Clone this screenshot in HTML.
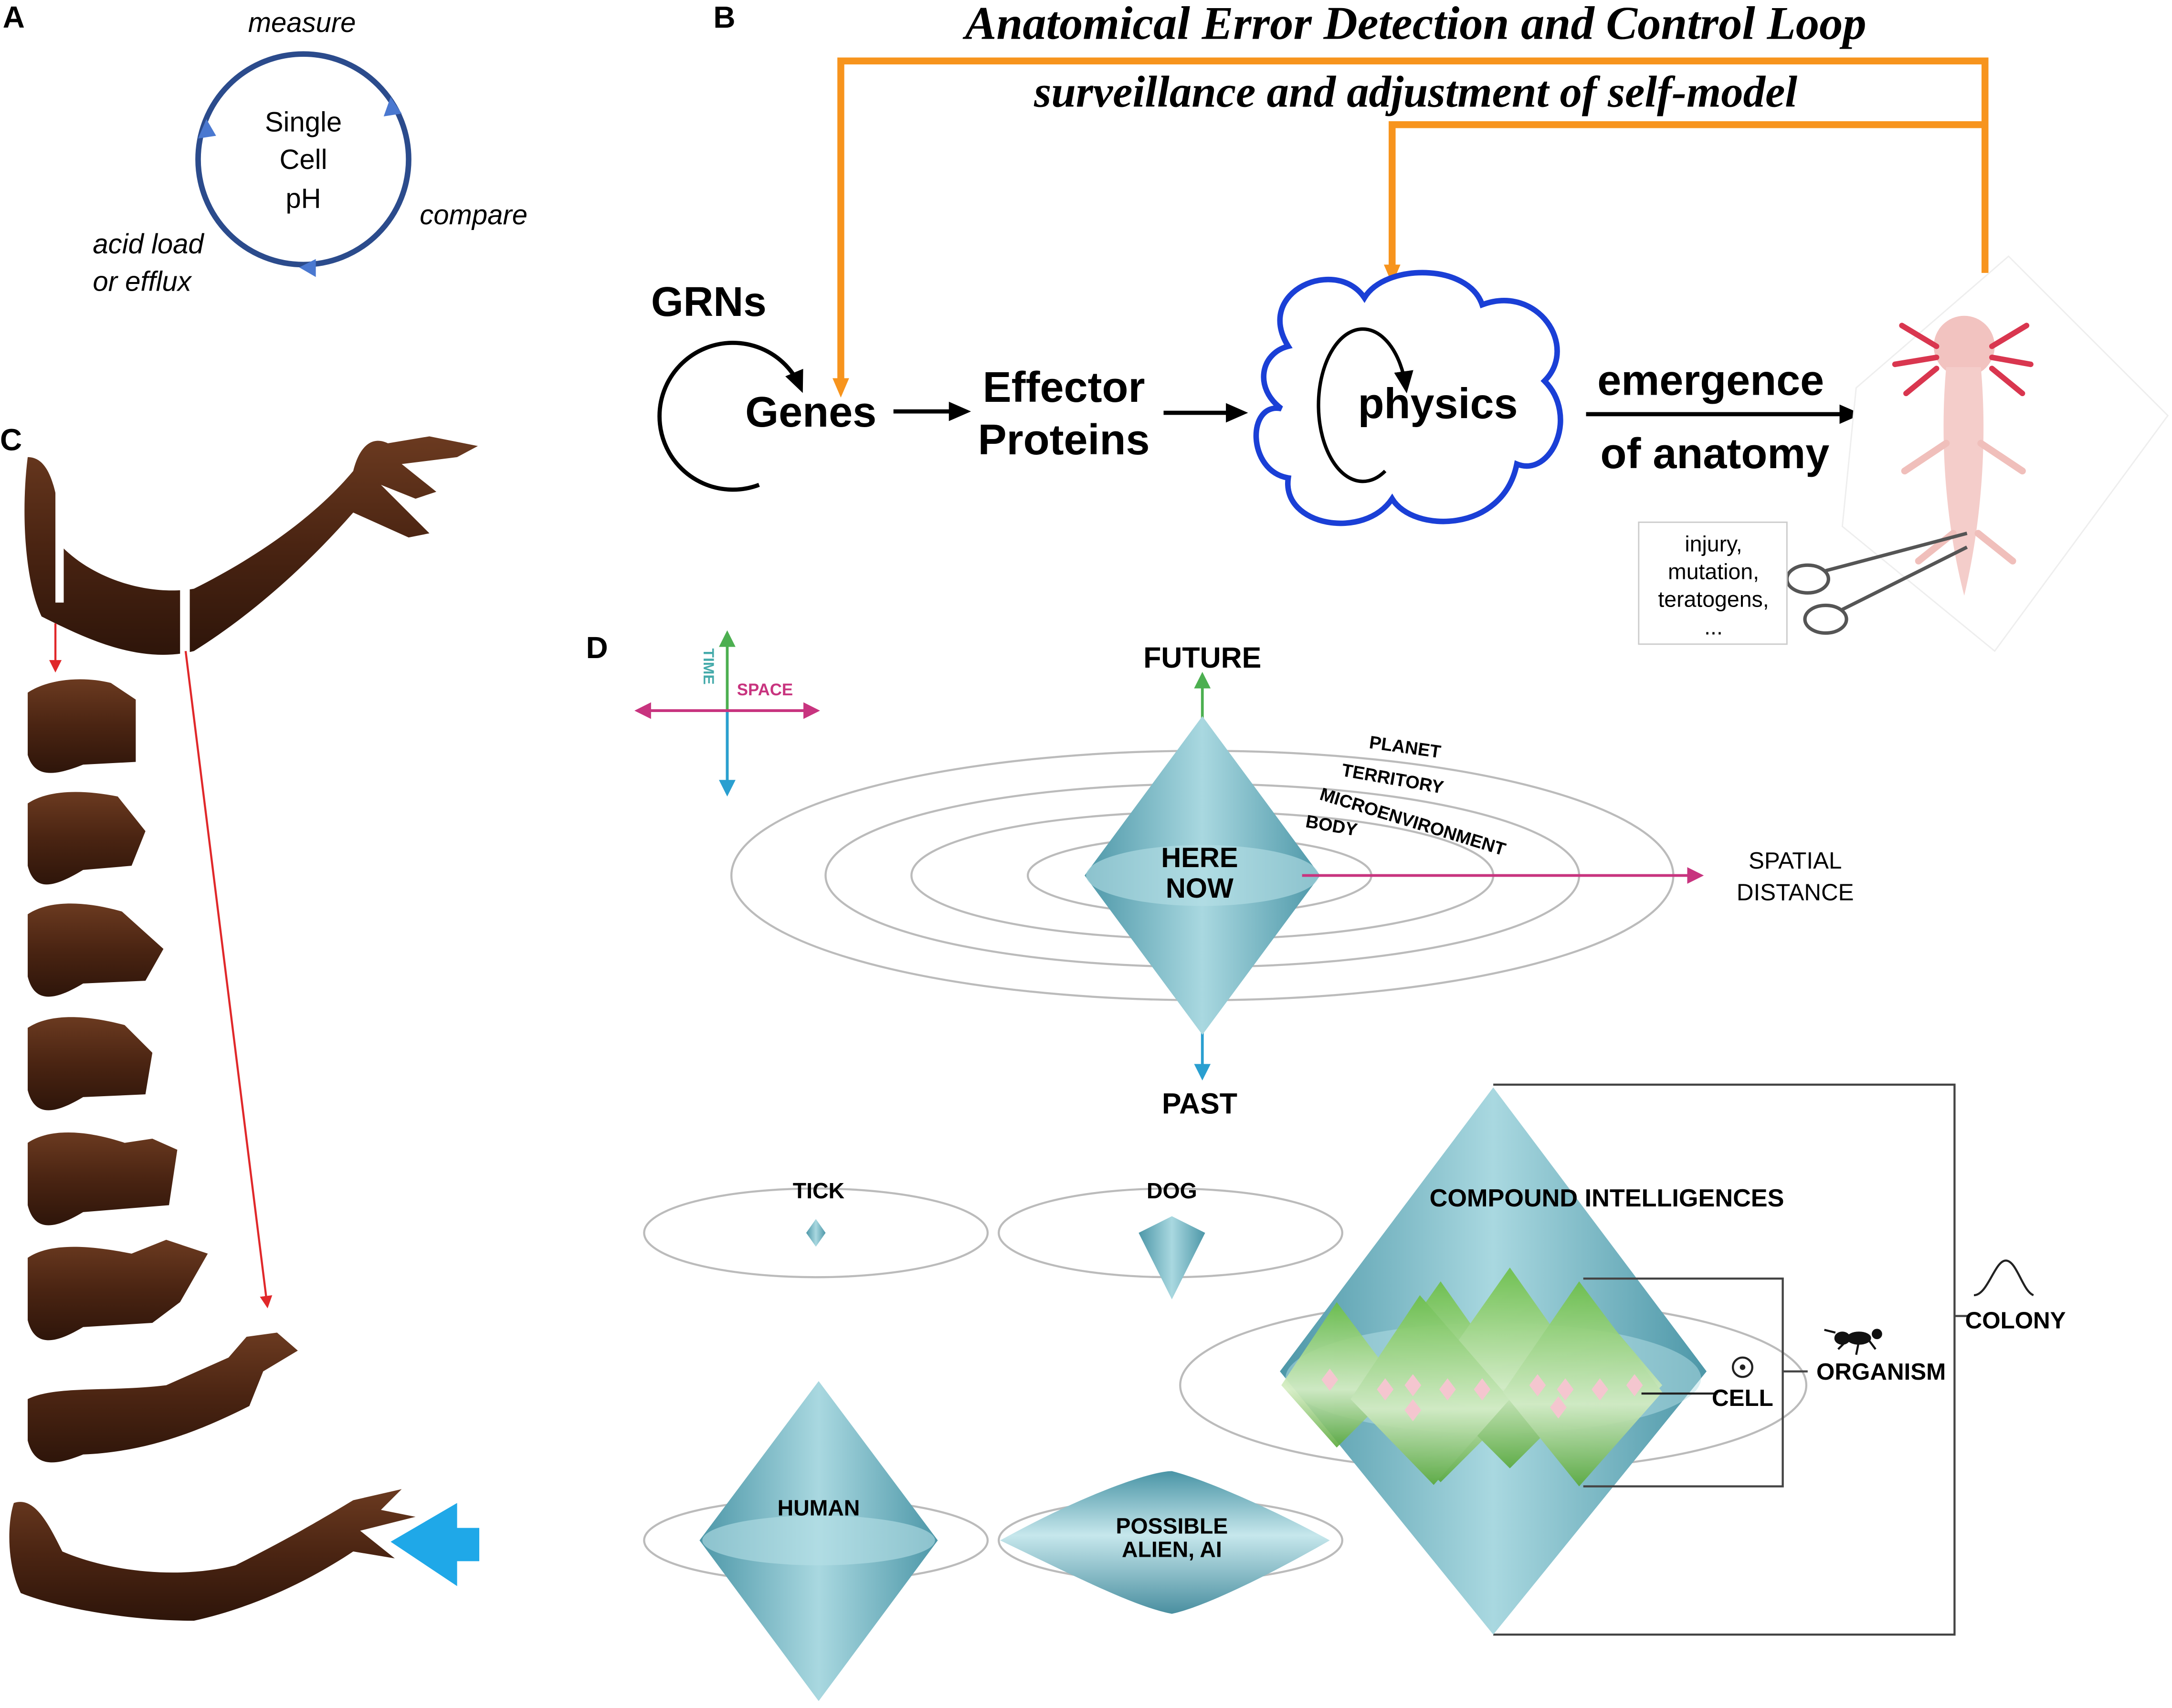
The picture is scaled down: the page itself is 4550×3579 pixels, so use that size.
<!DOCTYPE html>
<html><head><meta charset="utf-8"><style>
html,body{margin:0;padding:0;background:#fff;}
svg{display:block;font-family:"Liberation Sans",sans-serif;}
.cond{font-weight:bold;}
.serif{font-family:"Liberation Serif",serif;font-weight:bold;font-style:italic;}
</style></head><body>
<svg width="4550" height="3579" viewBox="0 0 1568 1233" preserveAspectRatio="none" xmlns="http://www.w3.org/2000/svg">
<defs>
<linearGradient id="teal" x1="0" y1="0" x2="1" y2="0">
<stop offset="0" stop-color="#4d97a8"/><stop offset="0.5" stop-color="#a9d8e0"/><stop offset="1" stop-color="#4d97a8"/></linearGradient>
<linearGradient id="tealv" x1="0" y1="0" x2="0" y2="1">
<stop offset="0" stop-color="#4a95a6"/><stop offset="0.45" stop-color="#c6e7ec"/><stop offset="1" stop-color="#4a8fa0"/></linearGradient>
<linearGradient id="green" x1="0" y1="0" x2="0" y2="1">
<stop offset="0" stop-color="#6cbf45"/><stop offset="0.6" stop-color="#d5edc2"/><stop offset="1" stop-color="#5aa93a"/></linearGradient>
<linearGradient id="brown" x1="0" y1="0" x2="0" y2="1">
<stop offset="0" stop-color="#6b3a20"/><stop offset="0.5" stop-color="#4a2412"/><stop offset="1" stop-color="#2e150a"/></linearGradient>
<marker id="ab" markerUnits="userSpaceOnUse" markerWidth="16" markerHeight="16" refX="12" refY="8" orient="auto"><path d="M0,1 L16,8 L0,15 Z" fill="#000"/></marker>
<marker id="ao" markerUnits="userSpaceOnUse" markerWidth="14" markerHeight="14" refX="7" refY="7" orient="auto"><path d="M0,1 L14,7 L0,13 Z" fill="#f7941d"/></marker>
<marker id="ar" markerWidth="6" markerHeight="6" refX="5" refY="3" orient="auto"><path d="M0,0 L6,3 L0,6 Z" fill="#e0282a"/></marker>
<marker id="ap" markerWidth="6" markerHeight="6" refX="5" refY="3" orient="auto"><path d="M0,0 L6,3 L0,6 Z" fill="#c8347f"/></marker>
<marker id="ag" markerWidth="6" markerHeight="6" refX="5" refY="3" orient="auto"><path d="M0,0 L6,3 L0,6 Z" fill="#4caf50"/></marker>
<marker id="abl" markerWidth="6" markerHeight="6" refX="5" refY="3" orient="auto"><path d="M0,0 L6,3 L0,6 Z" fill="#2a9fd0"/></marker>
</defs>

<g>
<text x="2" y="20" font-size="22" font-weight="bold">A</text>
<circle cx="219" cy="115" r="76" fill="none" stroke="#2b4b8c" stroke-width="4"/>
<path d="M282,70 l8,12 l-13,2 z" fill="#4a78d0"/>
<path d="M228,187 l-12,6 l12,7 z" fill="#4a78d0"/>
<path d="M143,100 l6,-14 l7,12 z" fill="#4a78d0"/>
<text x="219" y="95" font-size="20" text-anchor="middle">Single</text>
<text x="219" y="122" font-size="20" text-anchor="middle">Cell</text>
<text x="219" y="150" font-size="20" text-anchor="middle">pH</text>
<text x="218" y="23" font-size="20" font-style="italic" text-anchor="middle">measure</text>
<text x="303" y="162" font-size="20" font-style="italic">compare</text>
<text x="67" y="183" font-size="20" font-style="italic">acid load</text>
<text x="67" y="210" font-size="20" font-style="italic">or efflux</text>
</g>

<g>
<text x="515" y="20" font-size="22" font-weight="bold">B</text>
<text class="serif" x="1022" y="28" font-size="34" text-anchor="middle" style="font-family:'Liberation Serif',serif">Anatomical Error Detection and Control Loop</text>
<text class="serif" x="1022" y="77" font-size="32" text-anchor="middle" style="font-family:'Liberation Serif',serif">surveillance and adjustment of self-model</text>
<path d="M1433,197 V44 H607 V280" fill="none" stroke="#f7941d" stroke-width="5" marker-end="url(#ao)"/>
<path d="M1433,90 H1005 V198" fill="none" stroke="#f7941d" stroke-width="5" marker-end="url(#ao)"/>
<text x="470" y="228" font-size="30" font-weight="bold">GRNs</text>
<path d="M548,350 A53,53 0 1 1 578,280" fill="none" stroke="#000" stroke-width="3" marker-end="url(#ab)"/>
<text x="538" y="308" font-size="31" font-weight="bold">Genes</text>
<line x1="645" y1="297" x2="697" y2="297" stroke="#000" stroke-width="3" marker-end="url(#ab)"/>
<text x="768" y="290" font-size="31" font-weight="bold" text-anchor="middle">Effector</text>
<text x="768" y="328" font-size="31" font-weight="bold" text-anchor="middle">Proteins</text>
<line x1="840" y1="298" x2="897" y2="298" stroke="#000" stroke-width="3" marker-end="url(#ab)"/>
<path d="M930,250 C905,210 965,185 985,215 C1000,190 1060,190 1070,220 C1110,205 1140,250 1115,275 C1140,300 1120,345 1095,335 C1085,385 1020,385 1005,360 C985,390 925,380 930,345 C900,340 900,290 925,295 C905,280 910,255 930,250 Z" fill="#fff" stroke="#1a3fd6" stroke-width="4"/>
<path d="M1000,340 A32,55 0 1 1 1015,280" fill="none" stroke="#000" stroke-width="2.5" marker-end="url(#ab)"/>
<text x="1038" y="302" font-size="31" font-weight="bold" text-anchor="middle">physics</text>
<text x="1235" y="285" font-size="31" font-weight="bold" text-anchor="middle">emergence</text>
<line x1="1145" y1="299" x2="1340" y2="299" stroke="#000" stroke-width="3" marker-end="url(#ab)"/>
<text x="1238" y="338" font-size="31" font-weight="bold" text-anchor="middle">of anatomy</text>
<g>
<path d="M1340,280 L1450,185 L1565,300 L1440,470 L1330,380 Z" fill="#fff" stroke="#eee"/>
<ellipse cx="1418" cy="250" rx="22" ry="22" fill="#f2c3c0"/>
<path d="M1405,265 C1400,320 1405,380 1418,430 C1430,380 1435,320 1430,265 Z" fill="#f4cdca"/>
<path d="M1398,250 l-25,-15 M1398,258 l-30,5 M1398,266 l-22,18 M1438,250 l25,-15 M1438,258 l28,5 M1438,266 l22,18" stroke="#d9364f" stroke-width="4" stroke-linecap="round"/>
<path d="M1405,320 l-30,20 M1430,320 l30,20 M1410,385 l-25,20 M1428,385 l25,20" stroke="#f0bfbb" stroke-width="5" stroke-linecap="round"/>
</g>
<g fill="none" stroke="#555" stroke-width="2.5">
<ellipse cx="1305" cy="418" rx="15" ry="10"/><ellipse cx="1318" cy="447" rx="15" ry="10"/>
<path d="M1318,412 L1420,385 M1330,440 L1420,395"/>
</g>
<rect x="1183" y="377" width="107" height="88" fill="#fff" stroke="#ccc"/>
<text x="1237" y="398" font-size="16" text-anchor="middle">injury,</text>
<text x="1237" y="418" font-size="16" text-anchor="middle">mutation,</text>
<text x="1237" y="438" font-size="16" text-anchor="middle">teratogens,</text>
<text x="1237" y="458" font-size="16" text-anchor="middle">...</text>
</g>

<g>
<text x="0" y="325" font-size="22" font-weight="bold">C</text>
<path d="M20,330 C35,330 42,350 45,395 C70,420 110,430 140,425 C190,400 230,370 255,340 C260,320 270,315 280,320 L310,315 L345,322 L330,330 L290,335 L315,355 L300,360 L275,350 L310,385 L295,388 L255,370 C220,410 180,445 140,470 C100,480 60,460 30,445 C18,420 15,370 20,330 Z" fill="url(#brown)"/>
<rect x="40" y="340" width="6" height="95" fill="#fff"/>
<rect x="130" y="425" width="7" height="50" fill="#fff"/>
<line x1="40" y1="450" x2="40" y2="484" stroke="#e0282a" stroke-width="1.5" marker-end="url(#ar)"/>
<line x1="134" y1="470" x2="193" y2="943" stroke="#e0282a" stroke-width="1.5" marker-end="url(#ar)"/>
<path d="M20,500 C35,490 60,488 80,493 L98,505 L98,550 L60,552 C40,560 25,562 20,545 Z" fill="url(#brown)"/>
<path d="M20,580 C35,570 60,570 85,575 L105,600 L95,625 L60,628 C40,640 25,645 20,625 Z" fill="url(#brown)"/>
<path d="M20,660 C35,650 60,650 88,658 L118,685 L105,708 L60,710 C40,722 25,725 20,705 Z" fill="url(#brown)"/>
<path d="M20,742 C35,732 60,732 90,740 L110,760 L105,790 L60,792 C40,804 25,807 20,787 Z" fill="url(#brown)"/>
<path d="M20,825 C35,815 60,815 90,825 L110,822 L128,830 L122,870 L60,875 C40,887 25,890 20,870 Z" fill="url(#brown)"/>
<path d="M20,908 C35,898 60,898 95,905 L120,895 L150,905 L130,940 L110,955 L60,958 C40,970 25,973 20,953 Z" fill="url(#brown)"/>
<path d="M20,1010 C40,1000 80,1005 120,1000 L165,980 L178,965 L200,962 L215,975 L190,990 L180,1015 C150,1030 110,1048 60,1050 C40,1058 25,1060 20,1040 Z" fill="url(#brown)"/>
<path d="M10,1085 C25,1080 35,1100 45,1120 C80,1135 130,1140 170,1130 C210,1110 235,1095 255,1083 L290,1075 L275,1090 L300,1095 L260,1105 L285,1125 L255,1120 C225,1140 185,1160 140,1170 C90,1170 40,1160 15,1150 C5,1130 5,1100 10,1085 Z" fill="url(#brown)"/>
<path d="M282,1113 L330,1085 L330,1103 L346,1103 L346,1127 L330,1127 L330,1145 Z" fill="#1fa8e8"/>
</g>

<g>
<text x="423" y="475" font-size="22" font-weight="bold">D</text>
<line x1="525" y1="572" x2="525" y2="457" stroke="#4caf50" stroke-width="2" marker-end="url(#ag)"/>
<line x1="525" y1="513" x2="525" y2="573" stroke="#2a9fd0" stroke-width="2" marker-end="url(#abl)"/>
<line x1="525" y1="513" x2="590" y2="513" stroke="#c8347f" stroke-width="2" marker-end="url(#ap)"/>
<line x1="525" y1="513" x2="460" y2="513" stroke="#c8347f" stroke-width="2" marker-end="url(#ap)"/>
<text x="0" y="0" font-size="11" fill="#4aa" transform="translate(508,468) rotate(90)" class="cond">TIME</text>
<text x="532" y="502" font-size="12" fill="#c8347f" class="cond">SPACE</text>

<g fill="none" stroke="#bbb" stroke-width="1.5">
<ellipse cx="868" cy="632" rx="340" ry="90"/>
<ellipse cx="868" cy="632" rx="272" ry="66"/>
<ellipse cx="868" cy="632" rx="210" ry="46"/>
<ellipse cx="866" cy="632" rx="124" ry="28"/>
</g>
<line x1="868" y1="530" x2="868" y2="487" stroke="#4caf50" stroke-width="2" marker-end="url(#ag)"/>
<line x1="868" y1="740" x2="868" y2="778" stroke="#2a9fd0" stroke-width="2" marker-end="url(#abl)"/>
<path d="M868,517 L953,632 L868,747 L783,632 Z" fill="url(#teal)"/>
<ellipse cx="868" cy="632" rx="84" ry="22" fill="#b6dfe6" opacity="0.6"/>
<line x1="940" y1="632" x2="1228" y2="632" stroke="#c8347f" stroke-width="2" marker-end="url(#ap)"/>
<text x="868" y="482" font-size="21" text-anchor="middle" class="cond">FUTURE</text>
<text x="866" y="804" font-size="21" text-anchor="middle" class="cond">PAST</text>
<text x="866" y="626" font-size="20" text-anchor="middle" class="cond">HERE</text>
<text x="866" y="648" font-size="20" text-anchor="middle" class="cond">NOW</text>
<text x="1296" y="627" font-size="17" text-anchor="middle">SPATIAL</text>
<text x="1296" y="650" font-size="17" text-anchor="middle">DISTANCE</text>
<text x="988" y="540" font-size="13" transform="rotate(8 988 540)" class="cond">PLANET</text>
<text x="968" y="560" font-size="13" transform="rotate(10 968 560)" class="cond">TERRITORY</text>
<text x="952" y="577" font-size="13" transform="rotate(17 952 577)" class="cond">MICROENVIRONMENT</text>
<text x="942" y="597" font-size="13" transform="rotate(10 942 597)" class="cond">BODY</text>

<ellipse cx="589" cy="890" rx="124" ry="32" fill="none" stroke="#bbb" stroke-width="1.5"/>
<text x="591" y="865" font-size="16" text-anchor="middle" class="cond">TICK</text>
<path d="M589,880 L596,890 L589,900 L582,890 Z" fill="url(#teal)"/>
<ellipse cx="845" cy="890" rx="124" ry="32" fill="none" stroke="#bbb" stroke-width="1.5"/>
<text x="846" y="865" font-size="16" text-anchor="middle" class="cond">DOG</text>
<path d="M846,878 L870,890 L846,938 L822,890 Z" fill="url(#teal)"/>
<ellipse cx="589" cy="1112" rx="124" ry="30" fill="none" stroke="#bbb" stroke-width="1.5"/>
<path d="M591,997 L677,1112 L591,1228 L505,1112 Z" fill="url(#teal)"/>
<ellipse cx="591" cy="1112" rx="84" ry="18" fill="#b6dfe6" opacity="0.6"/>
<text x="591" y="1094" font-size="16" text-anchor="middle" class="cond">HUMAN</text>
<ellipse cx="845" cy="1112" rx="124" ry="30" fill="none" stroke="#bbb" stroke-width="1.5"/>
<path d="M722,1112 C780,1080 830,1062 846,1062 C870,1068 920,1090 960,1112 C920,1135 870,1160 846,1165 C820,1160 780,1140 722,1112 Z" fill="url(#tealv)"/>
<text x="846" y="1107" font-size="16" text-anchor="middle" class="cond">POSSIBLE</text>
<text x="846" y="1124" font-size="16" text-anchor="middle" class="cond">ALIEN, AI</text>

<polyline points="1078,783 1411,783 1411,1180 1078,1180" fill="none" stroke="#444" stroke-width="1.5"/>
<ellipse cx="1078" cy="1000" rx="226" ry="62" fill="none" stroke="#bbb" stroke-width="1.5"/>
<path d="M1078,785 L1232,990 L1078,1180 L924,990 Z" fill="url(#teal)"/>
<ellipse cx="1078" cy="995" rx="150" ry="40" fill="#b6dfe6" opacity="0.5"/>
<g fill="url(#green)" opacity="0.9">
<path d="M1040,925 L1100,1010 L1040,1070 L980,1010 Z"/>
<path d="M1090,915 L1150,1000 L1090,1060 L1030,1000 Z"/>
<path d="M965,940 L1010,1000 L965,1045 L925,1000 Z"/>
<path d="M1145,935 L1200,1000 L1145,1055 L1090,1000 Z"/>
<path d="M1025,935 L1090,1010 L1035,1072 L975,1010 Z"/>
<path d="M1140,925 L1200,1005 L1140,1073 L1085,1005 Z"/>
</g>
<g fill="#f4c6cf">
<path d="M960,988 l6,8 l-6,8 l-6,-8 z"/><path d="M1000,995 l6,8 l-6,8 l-6,-8 z"/><path d="M1020,992 l6,8 l-6,8 l-6,-8 z"/><path d="M1045,995 l6,8 l-6,8 l-6,-8 z"/><path d="M1070,995 l6,8 l-6,8 l-6,-8 z"/><path d="M1110,992 l6,8 l-6,8 l-6,-8 z"/><path d="M1130,995 l6,8 l-6,8 l-6,-8 z"/><path d="M1155,995 l6,8 l-6,8 l-6,-8 z"/><path d="M1180,992 l6,8 l-6,8 l-6,-8 z"/><path d="M1020,1010 l6,8 l-6,8 l-6,-8 z"/><path d="M1125,1008 l6,8 l-6,8 l-6,-8 z"/>
</g>
<polyline points="1143,923 1287,923 1287,1073 1143,1073" fill="none" stroke="#444" stroke-width="1.5"/>
<line x1="1185" y1="1006" x2="1240" y2="1006" stroke="#222" stroke-width="1.5"/>
<line x1="1287" y1="990" x2="1305" y2="990" stroke="#444" stroke-width="1.5"/>
<line x1="1411" y1="950" x2="1422" y2="950" stroke="#444" stroke-width="1.5"/>
<text x="1160" y="871" font-size="18" text-anchor="middle" class="cond">COMPOUND INTELLIGENCES</text>
<circle cx="1258" cy="987" r="7" fill="none" stroke="#222" stroke-width="1.5"/><circle cx="1258" cy="987" r="2" fill="#222"/>
<text x="1258" y="1015" font-size="17" text-anchor="middle" class="cond">CELL</text>
<text x="1358" y="996" font-size="17" text-anchor="middle" class="cond">ORGANISM</text>
<text x="1455" y="959" font-size="17" text-anchor="middle" class="cond">COLONY</text>
<g stroke="#111" stroke-width="1.5" fill="#111">
<ellipse cx="1342" cy="966" rx="8" ry="4"/><circle cx="1355" cy="963" r="3"/><ellipse cx="1330" cy="966" rx="5" ry="4"/>
<path d="M1335,966 l-8,8 M1342,968 l-2,10 M1348,966 l6,8 M1325,962 l-8,-2" fill="none"/>
</g>
<path d="M1425,935 C1435,935 1440,910 1448,910 C1456,910 1460,932 1468,935" fill="none" stroke="#222" stroke-width="1.5"/>
</g>
</svg>
</body></html>
